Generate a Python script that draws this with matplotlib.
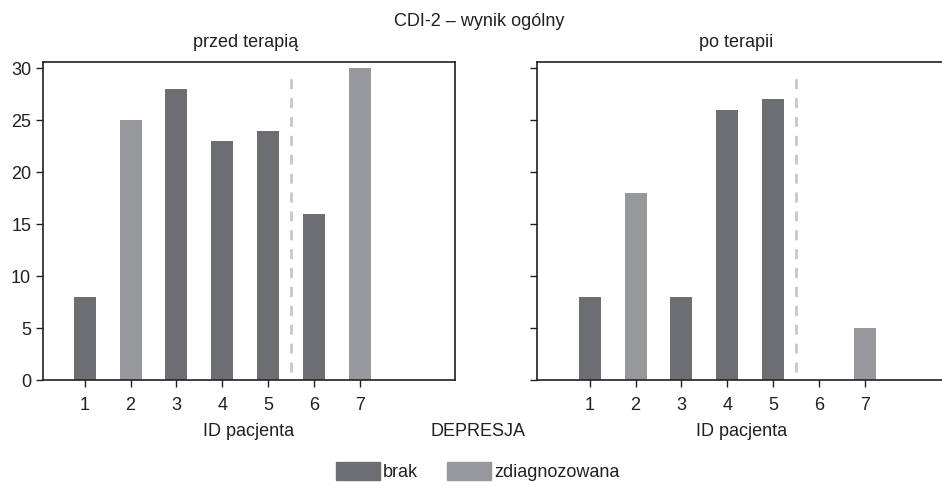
import matplotlib.pyplot as plt
from matplotlib.patches import Patch

# data
patients = [1, 2, 3, 4, 5, 6, 7]
before = [8, 25, 28, 23, 24, 16, 30]
before_status = ['brak', 'zdiagnozowana', 'brak', 'brak', 'brak', 'brak', 'zdiagnozowana']
after = [8, 18, 8, 26, 27, 0, 5]
after_status = ['brak', 'zdiagnozowana', 'brak', 'brak', 'brak', 'brak', 'zdiagnozowana']
y_ticks = [0, 5, 10, 15, 20, 25, 30]

colors = {'brak': '#6d6e71', 'zdiagnozowana': '#97989b'}
ink = '#231f20'

plt.rcParams['font.family'] = ['Liberation Sans Narrow', 'Liberation Sans', 'DejaVu Sans']
plt.rcParams['font.size'] = 13

fig = plt.figure(figsize=(9.42, 4.86), dpi=100)
ax1 = fig.add_axes([0.0456, 0.2181, 0.4374, 0.6543])
ax2 = fig.add_axes([0.570, 0.2181, 0.4374, 0.6543])


def draw_panel(ax, values, status, xlim, show_labels):
	ax.bar(patients, values, width=0.48, color=[colors[s] for s in status], zorder=2)
	ax.plot([5.5, 5.5], [0.8, 29.4], ls=(0, (3.6, 3.2)), color='#c8c8c8', lw=2, zorder=1)
	ax.set_xlim(*xlim)
	ax.set_ylim(0, 30.6)
	ax.set_xticks(patients)
	ax.set_yticks(y_ticks)
	if not show_labels:
		ax.set_yticklabels([])
	ax.tick_params(direction='out', length=5, width=1, color=ink, labelcolor=ink)
	ax.tick_params(axis='x', pad=7)
	ax.tick_params(axis='y', pad=3.5)
	for sp in ax.spines.values():
		sp.set_color(ink)
		sp.set_linewidth(1.2)


draw_panel(ax1, before, before_status, (0.09, 9.07), True)
draw_panel(ax2, after, after_status, (-0.15, 8.83), False)

fig.text(0.509, 0.955, 'CDI-2 – wynik ogólny', ha='center', va='center', color=ink)
fig.text(0.261, 0.912, 'przed terapią', ha='center', va='center', color=ink)
fig.text(0.781, 0.912, 'po terapii', ha='center', va='center', color=ink)
fig.text(0.264, 0.113, 'ID pacjenta', ha='center', va='center', color=ink)
fig.text(0.507, 0.113, 'DEPRESJA', ha='center', va='center', color=ink)
fig.text(0.787, 0.113, 'ID pacjenta', ha='center', va='center', color=ink)

handles = [Patch(color=colors['brak'], label='brak'),
	Patch(color=colors['zdiagnozowana'], label='zdiagnozowana')]
leg = fig.legend(handles=handles, loc='center', bbox_to_anchor=(0.507, 0.03), ncol=2,
	frameon=False, handlelength=2.45, handleheight=1.2, handletextpad=0.15,
	columnspacing=1.6, borderaxespad=0, borderpad=0)
for t in leg.get_texts():
	t.set_color(ink)

fig.savefig('out.png', dpi=100)
